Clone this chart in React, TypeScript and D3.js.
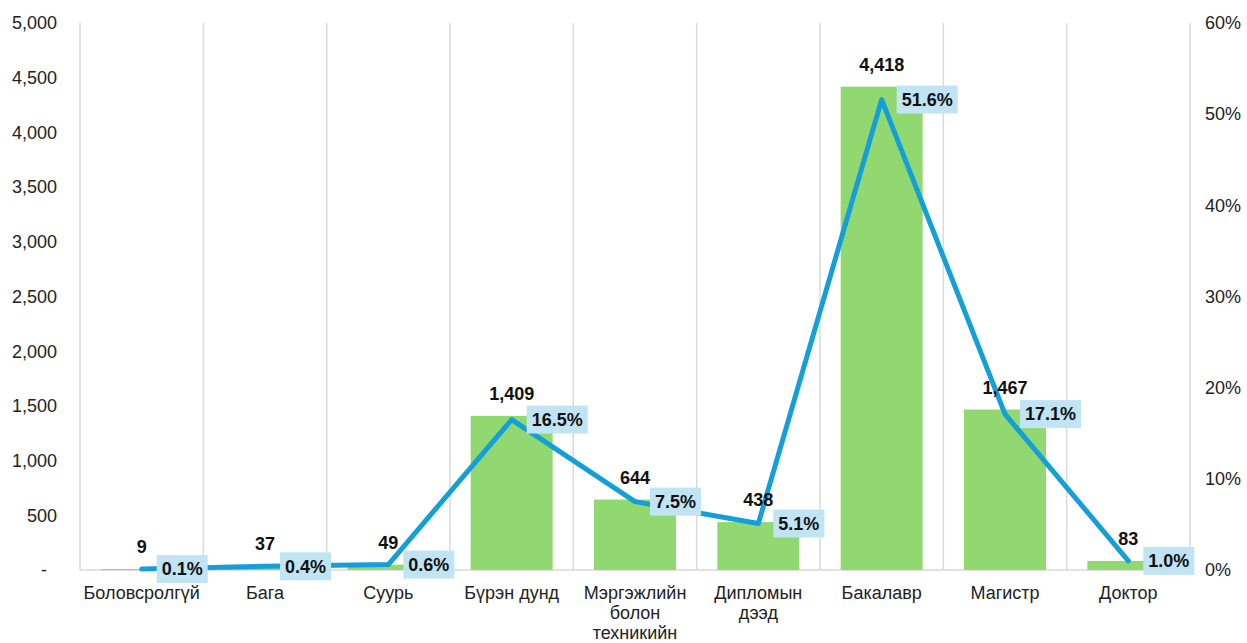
import React from "react";
import * as d3 from "d3";

const categories: string[][] = [
  ["Боловсролгүй"],
  ["Бага"],
  ["Суурь"],
  ["Бүрэн дунд"],
  ["Мэргэжлийн", "болон", "техникийн"],
  ["Дипломын", "дээд"],
  ["Бакалавр"],
  ["Магистр"],
  ["Доктор"],
];
const counts: number[] = [9, 37, 49, 1409, 644, 438, 4418, 1467, 83];
const shares: number[] = [0.1, 0.4, 0.6, 16.5, 7.5, 5.1, 51.6, 17.1, 1.0];
const leftTicks: number[] = [0, 500, 1000, 1500, 2000, 2500, 3000, 3500, 4000, 4500, 5000];
const rightTicks: number[] = [0, 10, 20, 30, 40, 50, 60];

const W = 1247;
const H = 643;
const left = 80;
const right = 1190;
const top = 23;
const bottom = 570;
const FONT = "'Liberation Sans', Arial, sans-serif";

function textWidth(s: string, size: number, weight: string): number {
  if (typeof document === "undefined") return s.length * size * 0.55;
  const c = (textWidth as any).c || ((textWidth as any).c = document.createElement("canvas"));
  const ctx = c.getContext("2d");
  ctx.font = `${weight} ${size}px ${FONT}`;
  return ctx.measureText(s).width;
}

export default function App() {
  const x = d3.scaleBand<number>().domain(d3.range(categories.length)).range([left, right]).paddingInner(0).paddingOuter(0);
  const yL = d3.scaleLinear().domain([0, 5000]).range([bottom, top]);
  const yR = d3.scaleLinear().domain([0, 60]).range([bottom, top]);
  const bw = x.bandwidth() * 0.665;
  const cx = (i: number) => (x(i) as number) + x.bandwidth() / 2;
  const fmt = d3.format(",");
  const line = d3.line<number>().x((_, i) => cx(i)).y((d) => yR(d));

  return (
    <svg width={W} height={H} style={{ position: "absolute", left: 0, top: 0, background: "#fff" }} fontFamily={FONT}>
      {d3.range(categories.length + 1).map((i) => {
        const gx = i === categories.length ? right : (x(i) as number);
        return <line key={"g" + i} x1={gx} x2={gx} y1={top} y2={bottom} stroke="#d9d9d9" strokeWidth={1.5} />;
      })}
      <line x1={left} x2={right} y1={bottom} y2={bottom} stroke="#d9d9d9" strokeWidth={1.5} />
      {leftTicks.map((t) => (
        <text key={"l" + t} x={t === 0 ? 47 : 57} y={yL(t)} dy="0.35em" textAnchor="end" fontSize={18} fill="#222">
          {t === 0 ? "-" : fmt(t)}
        </text>
      ))}
      {rightTicks.map((t) => (
        <text key={"r" + t} x={1205} y={yR(t)} dy="0.35em" textAnchor="start" fontSize={18} fill="#222">
          {t + "%"}
        </text>
      ))}
      {counts.map((v, i) => (
        <rect key={"b" + i} x={cx(i) - bw / 2} y={yL(v)} width={bw} height={bottom - yL(v)} fill="#92d870" />
      ))}
      {categories.map((lines, i) => (
        <text key={"c" + i} textAnchor="middle" fontSize={18} fill="#222">
          {lines.map((l, j) => (
            <tspan key={j} x={cx(i)} y={599 + j * 20}>{l}</tspan>
          ))}
        </text>
      ))}
      <path d={line(shares) || ""} fill="none" stroke="#159fd9" strokeWidth={5} strokeLinejoin="round" strokeLinecap="round" />
      {counts.map((v, i) => (
        <text key={"v" + i} x={cx(i)} y={yL(v) - 16} textAnchor="middle" fontSize={18} fontWeight="bold" fill="#111">
          {fmt(v)}
        </text>
      ))}
      {shares.map((p, i) => {
        const s = p.toFixed(1) + "%";
        const tw = textWidth(s, 18, "bold");
        const bx = cx(i) + 15;
        const by = yR(p);
        return (
          <g key={"p" + i}>
            <rect x={bx} y={by - 14} width={tw + 10} height={28} fill="#c0e4f4" />
            <text x={bx + 5} y={by} dy="0.35em" fontSize={18} fontWeight="bold" fill="#111">{s}</text>
          </g>
        );
      })}
    </svg>
  );
}
